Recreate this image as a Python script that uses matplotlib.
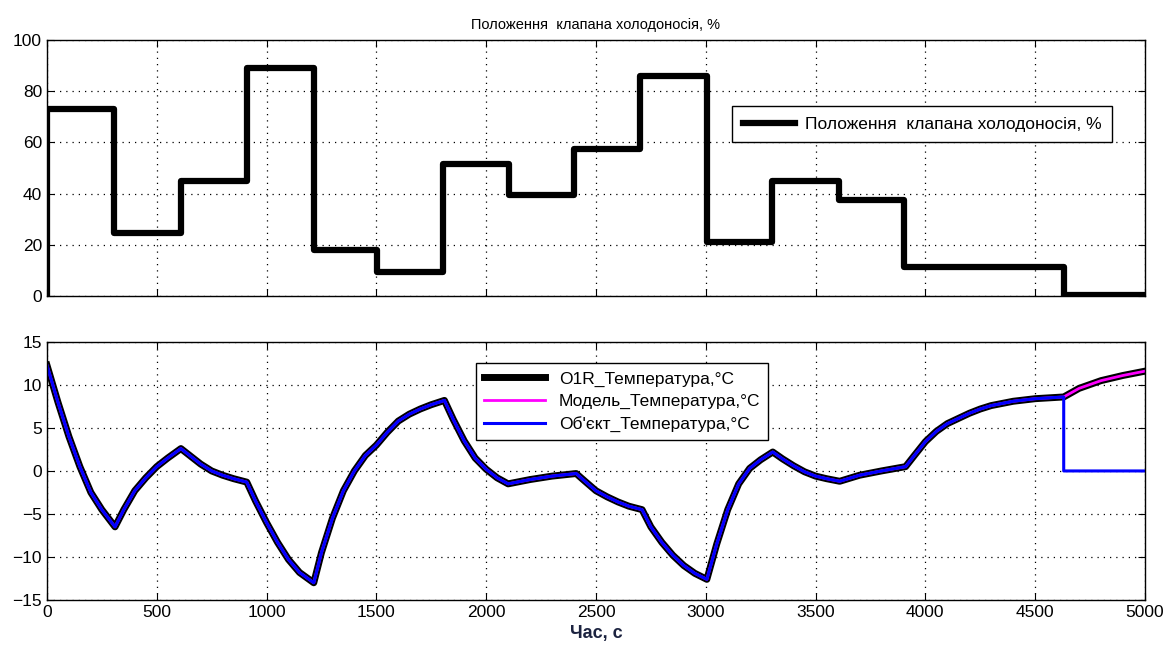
import matplotlib
matplotlib.use("Agg")
import matplotlib.pyplot as plt
import numpy as np

plt.rcParams['font.family'] = ['Liberation Sans', 'DejaVu Sans']

# Valve position steps (time, %)
valve_t = [0, 0, 305, 610, 910, 1215, 1505, 1805, 2105, 2400, 2700, 3005, 3300, 3605, 3905, 4630, 5000]
valve_v = [0, 73, 24.5, 45, 89, 18, 9.5, 51.5, 39.5, 57.5, 86, 21, 45, 37.5, 11.5, 0.5, 0.5]

# Temperature traces (time, °C)
temp_t = [0, 50, 100, 150, 200, 250, 310, 350, 400, 450, 500, 550, 610, 650, 700, 750,
          800, 850, 910, 950, 1000, 1050, 1100, 1150, 1215, 1250, 1300, 1350, 1400, 1450,
          1500, 1550, 1600, 1650, 1700, 1750, 1810, 1850, 1900, 1950, 2000, 2050, 2100,
          2200, 2300, 2410, 2450, 2500, 2550, 2600, 2650, 2710, 2750, 2800, 2850, 2900,
          2950, 3005, 3050, 3100, 3150, 3200, 3250, 3305, 3350, 3400, 3450, 3500, 3550,
          3610, 3700, 3800, 3910, 3950, 4000, 4050, 4100, 4150, 4200, 4250, 4300, 4400,
          4500, 4630, 4700, 4800, 4900, 5000]
model_temp = [12.3, 8.0, 4.0, 0.5, -2.5, -4.5, -6.5, -4.5, -2.3, -0.8, 0.5, 1.5, 2.6, 1.8,
              0.8, 0.0, -0.5, -0.9, -1.3, -3.5, -6.0, -8.3, -10.3, -11.8, -13.0, -9.5, -5.5,
              -2.3, 0.0, 1.8, 3.0, 4.5, 5.8, 6.6, 7.2, 7.7, 8.2, 6.0, 3.5, 1.5, 0.2, -0.8,
              -1.5, -1.0, -0.6, -0.3, -1.2, -2.3, -3.0, -3.6, -4.1, -4.5, -6.5, -8.3, -9.8,
              -11.0, -11.9, -12.6, -8.5, -4.5, -1.5, 0.3, 1.3, 2.2, 1.4, 0.6, -0.1, -0.6,
              -0.9, -1.2, -0.5, 0.0, 0.5, 1.8, 3.4, 4.6, 5.5, 6.1, 6.7, 7.2, 7.6, 8.1, 8.4,
              8.6, 9.6, 10.5, 11.1, 11.6]
object_stop_t = 4630
object_after = 0.0

fig = plt.figure(figsize=(11.65, 6.55), dpi=100)
ax1 = fig.add_axes([0.0403, 0.548, 0.9425, 0.391])
ax2 = fig.add_axes([0.0403, 0.084, 0.9425, 0.394])

# --- valve position ---
ax1.plot(valve_t, valve_v, drawstyle='steps-post', color='black', lw=4.5,
         label='Положення  клапана холодоносія, %')
ax1.set_xlim(0, 5000)
ax1.set_ylim(0, 100)
ax1.set_yticks(np.arange(0, 101, 20))
ax1.set_xticks(np.arange(0, 5001, 500))
ax1.set_xticklabels([])
ax1.set_title('Положення  клапана холодоносія, %', fontsize=10.5, pad=8)
ax1.legend(loc='center right', bbox_to_anchor=(0.978, 0.67), fontsize=12.5,
           fancybox=False, edgecolor='black', framealpha=1, handlelength=3.0,
           borderpad=0.6, handletextpad=0.6).get_frame().set_linewidth(1.0)

# --- temperatures ---
tt = np.array(temp_t, dtype=float)
mt = np.array(model_temp, dtype=float)
obj_mask = tt <= object_stop_t
obj_t = np.concatenate([tt[obj_mask], [object_stop_t, 5000]])
obj_v = np.concatenate([mt[obj_mask], [object_after, object_after]])

ax2.plot(tt, mt, color='black', lw=5, label='O1R_Температура,°C')
ax2.plot(tt, mt, color='magenta', lw=2, label='Модель_Температура,°C')
ax2.plot(obj_t, obj_v, color='blue', lw=2.2, label='Об\'єкт_Температура,°C')
ax2.set_xlim(0, 5000)
ax2.set_ylim(-15, 15)
ax2.set_yticks(np.arange(-15, 16, 5))
ax2.set_xticks(np.arange(0, 5001, 500))
ax2.set_xlabel('Час, с', fontsize=13, fontweight='bold', color='#1c2340', labelpad=4)
leg2 = ax2.legend(loc='upper left', bbox_to_anchor=(0.383, 0.95), fontsize=12.5,
                  fancybox=False, edgecolor='black', framealpha=1, handlelength=3.5,
                  borderpad=0.45, labelspacing=0.4)
leg2.get_frame().set_linewidth(1.0)

for ax in (ax1, ax2):
    ax.grid(True, linestyle=(0, (1, 4)), color='black', lw=0.9)
    ax.tick_params(direction='in', top=True, right=True, length=5, labelsize=12.5)
    for s in ax.spines.values():
        s.set_linewidth(1.0)

fig.savefig('out.png', dpi=100)
